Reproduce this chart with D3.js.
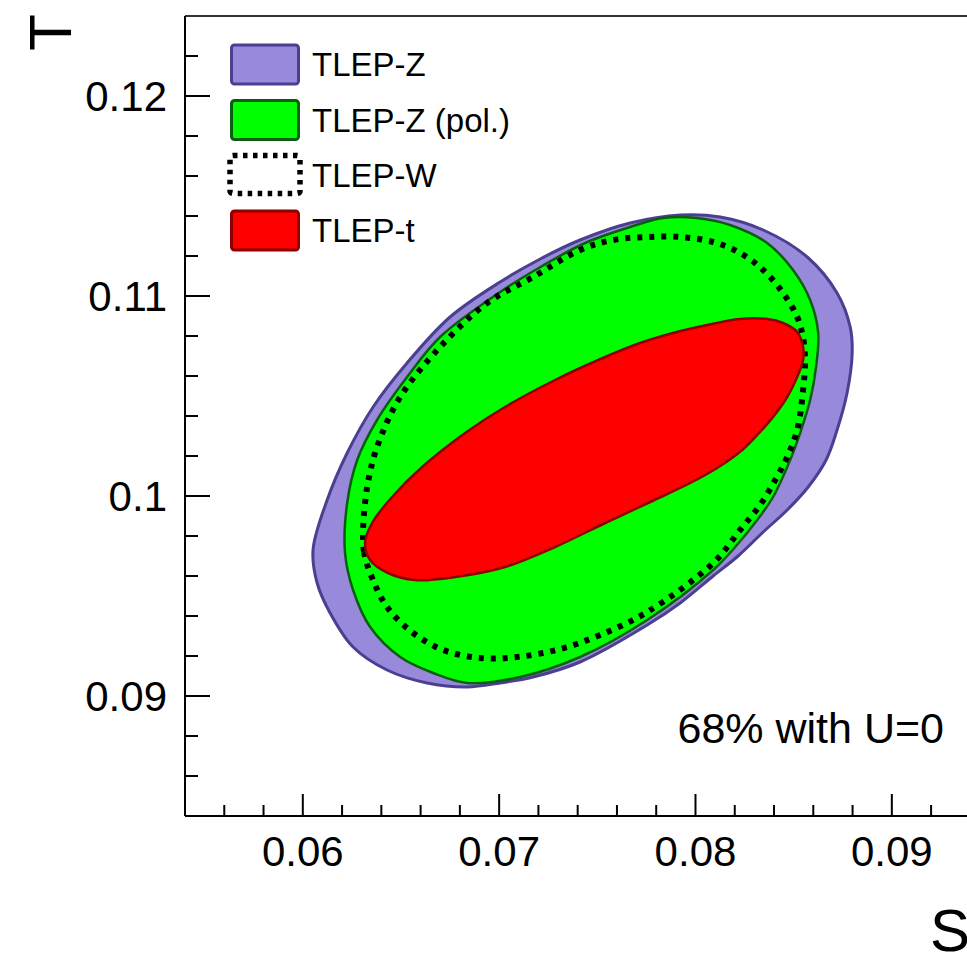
<!DOCTYPE html>
<html><head><meta charset="utf-8">
<script src="https://cdn.jsdelivr.net/npm/d3@7"></script>
<style>html,body{margin:0;padding:0;background:#fff;overflow:hidden}</style>
</head><body>
<script>
// ---- data (S, T) ----
const tlepZ = [[0.06052,0.0973],[0.06073,0.09565],[0.06139,0.09415],[0.06256,0.09245],[0.06429,0.0913],[0.06633,0.09065],[0.06837,0.09045],[0.07005,0.09065],[0.07173,0.09095],[0.07412,0.0917],[0.07754,0.09355],[0.07922,0.09465],[0.0809,0.096],[0.08217,0.097],[0.08345,0.0982],[0.08467,0.0993],[0.08574,0.10045],[0.08665,0.1018],[0.08721,0.1033],[0.08772,0.10515],[0.08798,0.10715],[0.08788,0.10845],[0.08721,0.11015],[0.08569,0.11195],[0.08345,0.1133],[0.08126,0.11395],[0.07922,0.11405],[0.07667,0.11365],[0.07412,0.1128],[0.07209,0.11185],[0.07005,0.1107],[0.0675,0.10895],[0.06531,0.10665],[0.06358,0.10445],[0.06226,0.10215],[0.06124,0.0998]];
const tlepZpol = [[0.06215,0.09715],[0.06256,0.0953],[0.06343,0.09345],[0.06496,0.09195],[0.06664,0.09115],[0.06837,0.09065],[0.07107,0.09095],[0.07412,0.09195],[0.07754,0.0938],[0.0809,0.0963],[0.08202,0.09745],[0.08314,0.0988],[0.08395,0.09995],[0.08482,0.1018],[0.08533,0.10315],[0.08584,0.1048],[0.08614,0.10645],[0.08625,0.10815],[0.08584,0.1098],[0.08497,0.1113],[0.08365,0.11265],[0.08176,0.11355],[0.08008,0.1139],[0.07835,0.1139],[0.07667,0.11345],[0.07438,0.11265],[0.07219,0.1115],[0.07005,0.1102],[0.06699,0.10795],[0.06531,0.10595],[0.06378,0.1038],[0.06277,0.1018],[0.06226,0.09965]];
const tlepW = [[0.06307,0.0983],[0.06312,0.0972],[0.06343,0.09615],[0.06429,0.09445],[0.06562,0.09315],[0.06715,0.0923],[0.06903,0.0919],[0.07092,0.09195],[0.07311,0.09235],[0.07514,0.09305],[0.07754,0.0942],[0.0809,0.09665],[0.08227,0.0983],[0.08329,0.09955],[0.08406,0.1008],[0.08467,0.10195],[0.08518,0.1033],[0.08548,0.1053],[0.08558,0.1068],[0.08548,0.1079],[0.08518,0.10895],[0.08446,0.11015],[0.08345,0.1113],[0.08227,0.11215],[0.0809,0.1127],[0.07922,0.11295],[0.07754,0.11295],[0.0758,0.1128],[0.07412,0.1123],[0.07173,0.11095],[0.06939,0.10965],[0.06699,0.10745],[0.06496,0.10495],[0.06378,0.10245],[0.06328,0.10045]];
const tlepT = [[0.06317,0.09765],[0.06343,0.0968],[0.06434,0.09615],[0.06572,0.0958],[0.06776,0.09595],[0.0703,0.09645],[0.07285,0.09745],[0.0754,0.09865],[0.07769,0.0997],[0.07973,0.10065],[0.0811,0.1014],[0.08238,0.1023],[0.08324,0.10315],[0.08395,0.10395],[0.08467,0.10495],[0.08518,0.10595],[0.08548,0.1068],[0.08548,0.10745],[0.08518,0.1082],[0.08446,0.10865],[0.08365,0.10885],[0.08227,0.10885],[0.08059,0.10855],[0.07886,0.10815],[0.07718,0.10765],[0.0754,0.10695],[0.07285,0.1058],[0.0703,0.10445],[0.06827,0.10315],[0.06608,0.10145],[0.06455,0.09995],[0.06353,0.09865]];

const legendLabels = ["TLEP-Z","TLEP-Z (pol.)","TLEP-W","TLEP-t"];
const xTicks = [0.06,0.07,0.08,0.09];
const xTickLabels = ["0.06","0.07","0.08","0.09"];
const yTicks = [0.09,0.1,0.11,0.12];
const yTickLabels = ["0.09","0.1","0.11","0.12"];
const xMinor = [0.056,0.058,0.062,0.064,0.066,0.068,0.072,0.074,0.076,0.078,0.082,0.084,0.086,0.088,0.092,0.094];
const yMinor = [0.086,0.088,0.092,0.094,0.096,0.098,0.102,0.104,0.106,0.108,0.112,0.114,0.116,0.118,0.122];

// ---- layout ----
const W = 967, H = 954;
const FONT = "'Liberation Sans', Arial, Helvetica, sans-serif";
const x = d3.scaleLinear().domain([0.054, 0.095]).range([185, 990]);
const y = d3.scaleLinear().domain([0.084, 0.124]).range([816, 16]);

const svg = d3.select("body").append("svg").attr("width", W).attr("height", H)
  .style("font-family", FONT);

const line = d3.line().x(d => x(d[0])).y(d => y(d[1])).curve(d3.curveCatmullRomClosed.alpha(0.5));

const styles = [
  {data: tlepZ, fill: "#9889da", stroke: "#4b3f91", sw: 3, dash: null},
  {data: tlepZpol, fill: "#00ff00", stroke: "#0b5e10", sw: 2.5, dash: null},
  {data: tlepW, fill: "none", stroke: "#000", sw: 6, dash: "5 7"},
  {data: tlepT, fill: "#ff0000", stroke: "#8e0000", sw: 2.5, dash: null}
];
styles.forEach(s => {
  svg.append("path").datum(s.data).attr("d", line)
    .attr("fill", s.fill).attr("stroke", s.stroke).attr("stroke-width", s.sw)
    .attr("stroke-dasharray", s.dash).attr("stroke-linejoin", "round");
});

// frame: top border and axes
svg.append("line").attr("x1", x(0.054)).attr("x2", W).attr("y1", y(0.124)).attr("y2", y(0.124))
  .attr("stroke", "#333").attr("stroke-width", 2);
svg.append("line").attr("x1", x(0.054)).attr("x2", W).attr("y1", y(0.084)).attr("y2", y(0.084))
  .attr("stroke", "#000").attr("stroke-width", 2);
svg.append("line").attr("x1", x(0.054)).attr("x2", x(0.054)).attr("y1", y(0.124)).attr("y2", y(0.084))
  .attr("stroke", "#000").attr("stroke-width", 2);

// ticks
const gx = svg.append("g");
gx.selectAll(".xmaj").data(xTicks).join("line")
  .attr("x1", d => x(d)).attr("x2", d => x(d)).attr("y1", y(0.084)).attr("y2", y(0.084) - 22)
  .attr("stroke", "#000").attr("stroke-width", 2);
gx.selectAll(".xmin").data(xMinor).join("line")
  .attr("x1", d => x(d)).attr("x2", d => x(d)).attr("y1", y(0.084)).attr("y2", y(0.084) - 11)
  .attr("stroke", "#000").attr("stroke-width", 2);
gx.selectAll("text").data(xTicks).join("text")
  .attr("x", d => x(d)).attr("y", 866).attr("text-anchor", "middle")
  .attr("font-size", 42).attr("fill", "#000").text((d, i) => xTickLabels[i]);

const gy = svg.append("g");
gy.selectAll(".ymaj").data(yTicks).join("line")
  .attr("y1", d => y(d)).attr("y2", d => y(d)).attr("x1", x(0.054)).attr("x2", x(0.054) + 25)
  .attr("stroke", "#000").attr("stroke-width", 2);
gy.selectAll(".ymin").data(yMinor).join("line")
  .attr("y1", d => y(d)).attr("y2", d => y(d)).attr("x1", x(0.054)).attr("x2", x(0.054) + 13)
  .attr("stroke", "#000").attr("stroke-width", 2);
gy.selectAll("text").data(yTicks).join("text")
  .attr("x", 167).attr("y", d => y(d) + 15).attr("text-anchor", "end")
  .attr("font-size", 42).attr("fill", "#000").text((d, i) => yTickLabels[i]);

// axis titles
svg.append("text").attr("transform", "translate(71,14) rotate(-90)")
  .attr("text-anchor", "end").attr("font-size", 60).attr("fill", "#000").text("T");
svg.append("text").attr("x", 930).attr("y", 951)
  .attr("font-size", 60).attr("fill", "#000").text("S");

// annotation
svg.append("text").attr("x", 944).attr("y", 743).attr("text-anchor", "end")
  .attr("font-size", 43).attr("fill", "#000").text("68% with U=0");

// legend
const lg = svg.append("g");
const rowY = [64.5, 120, 175, 230.5];
styles.forEach((s, i) => {
  const isDash = s.dash !== null;
  lg.append("rect").attr("x", isDash ? 230 : 231.5).attr("y", rowY[i] - 19.5)
    .attr("width", isDash ? 70 : 67).attr("height", isDash ? 38 : 39).attr("rx", 3)
    .attr("fill", isDash ? "none" : s.fill).attr("stroke", s.stroke)
    .attr("stroke-width", isDash ? 5.5 : 3).attr("stroke-dasharray", isDash ? "4.5 5.5" : null);
  lg.append("text").attr("x", 312).attr("y", rowY[i] + 11.5)
    .attr("font-size", 33).attr("fill", "#000").text(legendLabels[i]);
});
</script>
</body></html>
